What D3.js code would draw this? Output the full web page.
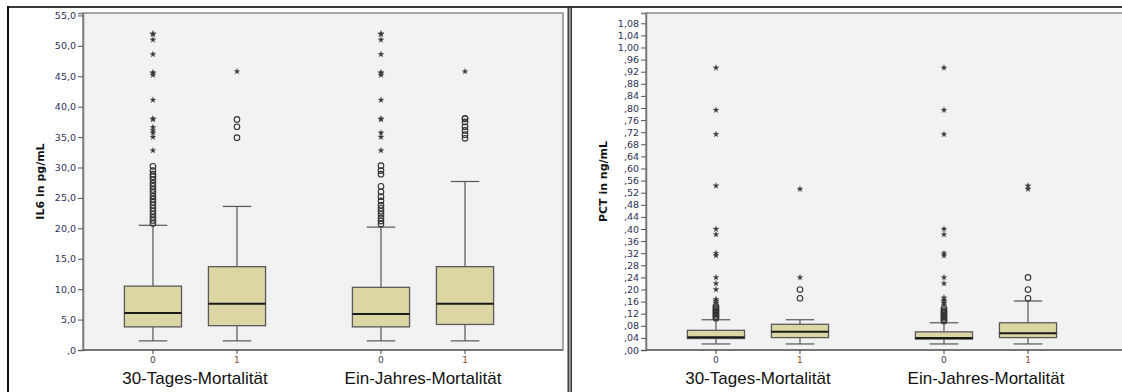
<!DOCTYPE html>
<html>
<head>
<meta charset="utf-8">
<script src="https://cdn.jsdelivr.net/npm/d3@7/dist/d3.min.js"></script>
<style>
  html, body { margin: 0; padding: 0; background: #fff; }
  svg { display: block; }
</style>
</head>
<body>
<svg id="chart" width="1122" height="392"></svg>
<script>
// Grouping variables and their two levels
const groups = ["30-Tages-Mortalität", "Ein-Jahres-Mortalität"];
const categories = ["0", "1"];

// IL6: [lower whisker, Q1, median, Q3, upper whisker] per group, per level
const il6Stats = [
  [[1.5, 3.8, 6.1, 10.5, 20.5], [1.5, 4.0, 7.6, 13.7, 23.6]],
  [[1.5, 3.8, 5.9, 10.3, 20.2], [1.5, 4.2, 7.6, 13.7, 27.7]]
];
// IL6 outliers (circles)
const il6Outliers = [
  [[20.8, 21.3, 21.8, 22.3, 22.8, 23.3, 23.8, 24.3, 24.8, 25.3, 25.9, 26.4, 26.9, 27.4, 28.0, 28.5, 28.9, 29.5, 30.2],
   [34.9, 36.7, 37.9]],
  [[20.7, 21.2, 21.7, 22.3, 22.8, 23.3, 23.8, 24.5, 25.2, 26.0, 26.9, 28.9, 29.5, 30.3],
   [34.8, 35.4, 36.1, 36.7, 37.5, 38.0, 38.1]]
];
// IL6 extreme values (stars)
const il6Extremes = [
  [[32.8, 35.0, 35.7, 36.1, 36.6, 37.9, 38.0, 41.1, 45.2, 45.5, 45.6, 48.6, 51.0, 51.9, 52.0],
   [45.8]],
  [[32.8, 35.0, 35.7, 37.9, 38.0, 41.1, 45.2, 45.5, 45.6, 48.6, 51.0, 51.9, 52.0],
   [45.8]]
];

// PCT: [lower whisker, Q1, median, Q3, upper whisker]
const pctStats = [
  [[0.02, 0.038, 0.042, 0.065, 0.10], [0.02, 0.041, 0.060, 0.085, 0.10]],
  [[0.02, 0.036, 0.040, 0.060, 0.09], [0.02, 0.041, 0.055, 0.090, 0.162]]
];
// PCT outliers (circles)
const pctOutliers = [
  [[0.105, 0.110, 0.115, 0.120, 0.125, 0.130, 0.135, 0.140, 0.145], [0.171, 0.200]],
  [[0.096, 0.100, 0.105, 0.110, 0.115, 0.120, 0.125, 0.130, 0.138], [0.171, 0.200, 0.240]]
];
// PCT extreme values (stars)
const pctExtremes = [
  [[0.155, 0.160, 0.163, 0.168, 0.20, 0.22, 0.24, 0.312, 0.32, 0.382, 0.40, 0.543, 0.713, 0.793, 0.933],
   [0.24, 0.532]],
  [[0.149, 0.155, 0.160, 0.165, 0.173, 0.22, 0.24, 0.312, 0.32, 0.382, 0.40, 0.713, 0.793, 0.933],
   [0.532, 0.543]]
];

// Axis ticks and titles
const il6Ticks = d3.range(0, 55.01, 5);
const pctTicks = d3.range(0, 1.0801, 0.04);
const il6Title = "IL6 in pg/mL";
const pctTitle = "PCT in ng/mL";

const svg = d3.select("#chart");

const PLOT_TOP = 13, PLOT_BOTTOM = 350, PLOT_W = 480;

// German number format without leading zero: ",04", "1,08", "55,0"
function deFormat(spec) {
  const f = d3.format(spec);
  return v => f(v).replace(".", ",").replace(/^0,/, ",");
}

function drawPanel(panelX, stats, outliers, extremes, ticks, yMax, fmt, title) {
  const plotLeft = panelX + 75;
  const g = svg.append("g");

  const y = d3.scaleLinear().domain([0, yMax]).range([PLOT_BOTTOM, PLOT_TOP]);
  const xg = d3.scaleBand().domain(groups)
    .range([plotLeft, plotLeft + PLOT_W])
    .paddingInner(0.263).paddingOuter(0.184).align(0.333);
  const xc = d3.scaleBand().domain(categories).range([0, xg.bandwidth()]);
  const boxW = xc.bandwidth() * 0.68;
  const capW = boxW / 2;

  // plot background
  g.append("rect")
    .attr("x", plotLeft).attr("y", PLOT_TOP)
    .attr("width", PLOT_W).attr("height", PLOT_BOTTOM - PLOT_TOP)
    .attr("fill", "#f2f2f2").attr("stroke", "#8a8a8a").attr("stroke-width", 1.5);

  // y axis
  const yAxis = d3.axisLeft(y).tickValues(ticks).tickFormat(fmt).tickSize(5).tickPadding(2);
  const ya = g.append("g").attr("transform", `translate(${plotLeft},0)`).call(yAxis);
  ya.select(".domain").attr("stroke", "#777").attr("stroke-width", 1.5);
  ya.selectAll(".tick line").attr("stroke", "#555");
  ya.selectAll(".tick text")
    .attr("fill", "#2f2f55").attr("font-family", "DejaVu Sans")
    .attr("font-size", 9.5);

  // bottom axis line
  g.append("line")
    .attr("x1", plotLeft).attr("x2", plotLeft + PLOT_W)
    .attr("y1", PLOT_BOTTOM).attr("y2", PLOT_BOTTOM)
    .attr("stroke", "#666").attr("stroke-width", 1.6);

  // y title
  g.append("text")
    .attr("transform", `translate(${panelX + 36},${(PLOT_TOP + PLOT_BOTTOM) / 2}) rotate(-90)`)
    .attr("text-anchor", "middle")
    .attr("font-family", "DejaVu Sans").attr("font-weight", "bold").attr("font-size", 11)
    .attr("fill", "#111")
    .text(title);

  groups.forEach((grp, gi) => {
    const gx = xg(grp);
    // group label
    g.append("text")
      .attr("x", gx + xg.bandwidth() / 2).attr("y", 384)
      .attr("text-anchor", "middle")
      .attr("font-family", "Liberation Sans, Arial, sans-serif").attr("font-size", 17)
      .attr("fill", "#111")
      .text(grp);

    categories.forEach((cat, ci) => {
      const cx = gx + xc(cat) + xc.bandwidth() / 2;
      const [lo, q1, med, q3, hi] = stats[gi][ci];

      // x tick and label
      g.append("line").attr("x1", cx).attr("x2", cx)
        .attr("y1", PLOT_BOTTOM).attr("y2", PLOT_BOTTOM + 4)
        .attr("stroke", "#444");
      g.append("text")
        .attr("x", cx).attr("y", 363)
        .attr("text-anchor", "middle")
        .attr("font-family", "DejaVu Sans").attr("font-size", 9)
        .attr("fill", ci === 0 ? "#3a3a55" : "#8a4a28")
        .text(cat);

      // whiskers
      g.append("line").attr("x1", cx).attr("x2", cx)
        .attr("y1", y(hi)).attr("y2", y(q3)).attr("stroke", "#555").attr("stroke-width", 1.2);
      g.append("line").attr("x1", cx).attr("x2", cx)
        .attr("y1", y(q1)).attr("y2", y(lo)).attr("stroke", "#555").attr("stroke-width", 1.2);
      [hi, lo].forEach(v => {
        g.append("line").attr("x1", cx - capW / 2).attr("x2", cx + capW / 2)
          .attr("y1", y(v)).attr("y2", y(v)).attr("stroke", "#555").attr("stroke-width", 1.2);
      });

      // box
      g.append("rect")
        .attr("x", cx - boxW / 2).attr("y", y(q3))
        .attr("width", boxW).attr("height", y(q1) - y(q3))
        .attr("fill", "#dcd6a4").attr("stroke", "#5a5a5a").attr("stroke-width", 1.3);
      // median
      g.append("line").attr("x1", cx - boxW / 2).attr("x2", cx + boxW / 2)
        .attr("y1", y(med)).attr("y2", y(med)).attr("stroke", "#1a1a1a").attr("stroke-width", 2);

      // outliers
      g.selectAll(null).data(outliers[gi][ci]).enter().append("circle")
        .attr("cx", cx).attr("cy", d => y(d)).attr("r", 2.8)
        .attr("fill", "none").attr("stroke", "#333").attr("stroke-width", 1.1);

      // extremes
      const star = d3.symbol().type(d3.symbolStar).size(12);
      g.selectAll(null).data(extremes[gi][ci]).enter().append("path")
        .attr("d", star)
        .attr("transform", d => `translate(${cx},${y(d)})`)
        .attr("fill", "#333").attr("stroke", "#666").attr("stroke-width", 0.3);
    });
  });
}

drawPanel(8, il6Stats, il6Outliers, il6Extremes, il6Ticks, 55.4, deFormat(".1f"), il6Title);
drawPanel(571, pctStats, pctOutliers, pctExtremes, pctTicks, 1.114, deFormat(".2f"), pctTitle);

// outer frames of the two panels
svg.append("rect").attr("x", 8).attr("y", 6).attr("width", 1114).attr("height", 2).attr("fill", "#3a3a3a");
svg.append("rect").attr("x", 7).attr("y", 6).attr("width", 2).attr("height", 386).attr("fill", "#111");
svg.append("rect").attr("x", 567.5).attr("y", 6).attr("width", 4.5).attr("height", 386).attr("fill", "#333");
svg.append("rect").attr("x", 568.8).attr("y", 8).attr("width", 2).attr("height", 384).attr("fill", "#9a9a9a");
</script>
</body>
</html>
